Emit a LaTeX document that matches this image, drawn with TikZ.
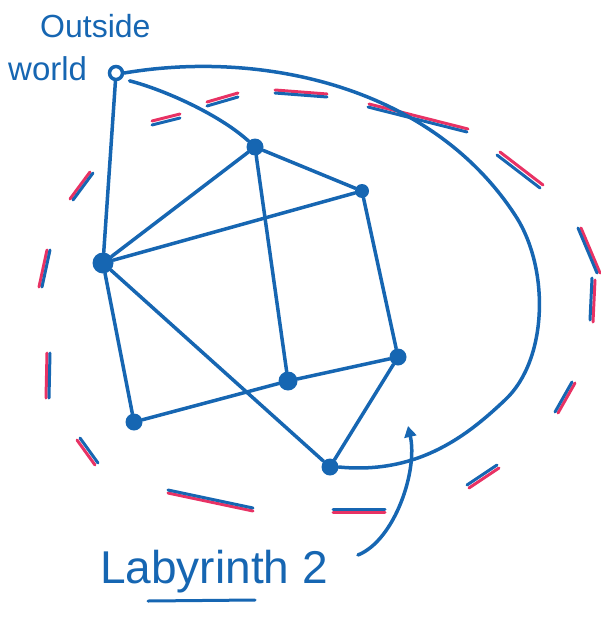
\documentclass[tikz,border=0pt]{standalone}
\usepackage{fontspec}
\setmainfont{Liberation Sans}
\usetikzlibrary{arrows.meta}
\definecolor{pen}{RGB}{22,102,178}
\definecolor{redpen}{RGB}{232,50,100}
\begin{document}
\begin{tikzpicture}[x=1pt,y=-1pt,
  edge/.style={pen, line width=3.5pt, line cap=round},
  blob/.style={circle, fill=pen, inner sep=0pt, minimum size=17pt},
  ring/.style={circle, draw=pen, line width=3.5pt, inner sep=0pt, minimum size=13pt},
  dashblue/.style={pen, line width=3pt, line cap=round},
  dashred/.style={redpen, line width=3pt, line cap=round},
  handtext/.style={text=pen, inner sep=0pt, anchor=base west}]
\useasboundingbox (0,0) rectangle (601,621);

% dashed boundary: red stroke offset outward, blue stroke on top
\foreach \xa/\ya/\xb/\yb/\dx/\dy in {
  73/200/93/173/-3/-1,
  152/125/180/118/0/-4,
  207/106/238/97/0/-4,
  275/93/327/97/0/-3,
  368/107/467/132/1/-3,
  497/155/540/188/3/-3,
  578/228/597/273/3/0,
  592/278/590/320/3/2,
  572/382/555/412/3/1,
  497/465/467/485/2/3,
  168/490/253/508/0/3,
  333/509/385/509/0/3,
  42/287/50/250/-3/0,
  49/398/50/353/-3/0,
  80/438/98/463/-3/2}{
  \draw[dashred] (\xa+\dx,\ya+\dy) -- (\xb+\dx,\yb+\dy);
  \draw[dashblue] (\xa,\ya) -- (\xb,\yb);
}

% nodes
\node[ring] (O) at (116,73) {};
\node[blob] (A) at (255,147) {};
\node[blob, minimum size=14pt] (B) at (362,191) {};
\node[blob, minimum size=21pt] (C) at (103,263) {};
\node[blob] (D) at (398,357) {};
\node[blob, minimum size=19pt] (E) at (288,381) {};
\node[blob] (F) at (134,422) {};
\node[blob] (G) at (330,467) {};

% connectors
\draw[edge] (O) -- (C);
\draw[edge, shorten <=8pt] (O.south east) .. controls (165,90) and (220,115) .. (A);
\draw[edge] (O.east) .. controls (260,50) and (430,85) .. (515,215)
  .. controls (550,268) and (548,360) .. (505,400)
  .. controls (470,433) and (420,475) .. (G.east);
\draw[edge] (A) -- (B);
\draw[edge] (A) -- (C);
\draw[edge] (A) -- (E);
\draw[edge] (B) -- (C);
\draw[edge] (B) -- (D);
\draw[edge] (C) -- (F);
\draw[edge] (C) -- (G);
\draw[edge] (F) -- (E);
\draw[edge] (E) -- (D);
\draw[edge] (D) -- (G);

% labels
\node[handtext, font=\fontsize{32}{34}\selectfont] (outside) at (40,37) {Outside};
\node[handtext, font=\fontsize{33}{35}\selectfont] (world) at (8,80) {world};
\node[handtext, font=\fontsize{46}{50}\selectfont] (lab) at (100,583) {Labyrinth 2};
\draw[pen, line width=3pt, line cap=round] (148,601) -- (255,600);

% arrow from label
\coordinate (tail) at (358,555);
\coordinate (tip) at (408,426);
\draw[edge, -{Triangle[width=12pt,length=11pt]}] (tail) .. controls (395,540) and (418,470) .. (tip);
\end{tikzpicture}
\end{document}
